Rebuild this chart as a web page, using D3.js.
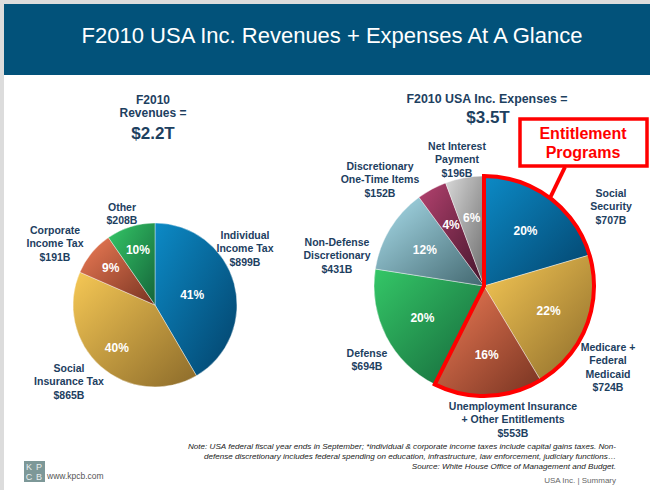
<!DOCTYPE html>
<html>
<head>
<meta charset="utf-8">
<script src="https://cdn.jsdelivr.net/npm/d3@7"></script>
<style>
  body { margin: 0; background: #fff; }
  svg { display: block; font-family: "Liberation Sans", Arial, sans-serif; }
</style>
</head>
<body>
<svg width="650" height="490"></svg>
<script>
// revenues (left pie)
const revNames = [['Individual', 'Income Tax'], ['Social', 'Insurance Tax'], ['Corporate', 'Income Tax'], ['Other']];
const revValues = [899, 865, 191, 208];
const revPct = ['41%', '40%', '9%', '10%'];

// expenses (right pie)
const expNames = [['Social', 'Security'], ['Medicare +', 'Federal', 'Medicaid'], ['Unemployment Insurance', '+ Other Entitlements'],
  ['Defense'], ['Non-Defense', 'Discretionary'], ['Discretionary', 'One-Time Items'], ['Net Interest', 'Payment']];
const expValues = [707, 724, 553, 694, 431, 152, 196];
const expPct = ['20%', '22%', '16%', '20%', '12%', '4%', '6%'];
const entitlementCount = 3;

const svg = d3.select('svg');
const navy = '#1d405f';

// page frame
svg.append('rect').attr('width', 650).attr('height', 490).attr('fill', '#dcdcdc');
svg.append('rect').attr('x', 4).attr('y', 4).attr('width', 646).attr('height', 486).attr('fill', '#fff');
svg.append('rect').attr('x', 4).attr('y', 4).attr('width', 646).attr('height', 71).attr('fill', '#02527a');
svg.append('text').attr('x', 332).attr('y', 43).attr('text-anchor', 'middle')
  .attr('fill', '#fff').attr('font-size', 22)
  .text('F2010 USA Inc. Revenues + Expenses At A Glance');

// gradients for slices
const shades = {
  blue: ['#0c8ac6', '#03426a'],
  gold: ['#f6c855', '#8c6b2a'],
  red: ['#ef7c56', '#773321'],
  green: ['#34c767', '#15653a'],
  sky: ['#aadeec', '#436870'],
  plum: ['#b4426f', '#42142a'],
  gray: ['#d8d8d8', '#6c6c6c']
};
const defs = svg.append('defs');
Object.entries(shades).forEach(([k, c]) => {
  const g = defs.append('linearGradient').attr('id', 'g-' + k)
    .attr('x1', 0).attr('y1', 0).attr('x2', 1).attr('y2', 1);
  g.append('stop').attr('offset', '0%').attr('stop-color', c[0]);
  g.append('stop').attr('offset', '100%').attr('stop-color', c[1]);
});
const revColors = ['blue', 'gold', 'red', 'green'];
const expColors = ['blue', 'gold', 'red', 'green', 'sky', 'plum', 'gray'];

const pie = d3.pie().sort(null).value(d => d);

function drawPie(cx, cy, r, values, colors, pct, labelK) {
  const g = svg.append('g').attr('transform', `translate(${cx},${cy})`);
  const arcs = pie(values);
  const arc = d3.arc().innerRadius(0).outerRadius(r);
  g.selectAll('path.slice').data(arcs).enter().append('path')
    .attr('class', 'slice')
    .attr('d', arc)
    .attr('fill', (d, i) => `url(#g-${colors[i]})`)
    .attr('stroke', '#fff').attr('stroke-width', 0.4);
  g.selectAll('text.pct').data(arcs).enter().append('text')
    .attr('class', 'pct')
    .attr('transform', (d, i) => {
      const k = labelK(i);
      const a = d3.arc().innerRadius(r * k).outerRadius(r * k);
      const c = a.centroid(d);
      return `translate(${c[0]},${c[1] + 4})`;
    })
    .attr('text-anchor', 'middle').attr('fill', '#fff')
    .attr('font-size', 12).attr('font-weight', 'bold')
    .text((d, i) => pct[i]);
  return { g, arcs };
}

function label(x, y, lines, size, color, lead) {
  const t = svg.append('text').attr('text-anchor', 'middle')
    .attr('fill', color || navy).attr('font-weight', 'bold').attr('font-size', size || 10.5);
  lines.forEach((s, i) => {
    t.append('tspan').attr('x', x).attr('y', y + i * (lead || 13.3)).text(s);
  });
}

// left pie
drawPie(155, 305, 82, revValues, revColors, revPct, i => i === 0 ? 0.47 : 0.7);
label(153, 104, ['F2010', 'Revenues ='], 12);
svg.append('text').attr('x', 153).attr('y', 139).attr('text-anchor', 'middle')
  .attr('fill', navy).attr('font-weight', 'bold').attr('font-size', 17).text('$2.2T');

const revLabelPos = [[245, 239], [69, 372], [55, 234], [122, 211]];
revNames.forEach((n, i) => label(revLabelPos[i][0], revLabelPos[i][1], n.concat(['$' + revValues[i] + 'B'])));

// right pie
const R = 110;
const right = drawPie(484, 286, R, expValues, expColors, expPct, () => 0.63);
label(487, 103, ['F2010 USA Inc. Expenses ='], 12.4);
svg.append('text').attr('x', 488).attr('y', 123).attr('text-anchor', 'middle')
  .attr('fill', navy).attr('font-weight', 'bold').attr('font-size', 17).text('$3.5T');

const expLabelPos = [[611, 197], [608, 351], [513, 410], [367, 357], [337, 246], [380, 170], [457, 150]];
expNames.forEach((n, i) => label(expLabelPos[i][0], expLabelPos[i][1], n.concat(['$' + expValues[i] + 'B'])));

// entitlement outline
const ent = right.arcs.slice(0, entitlementCount);
right.g.append('path')
  .attr('d', d3.arc().innerRadius(0).outerRadius(R)({ startAngle: ent[0].startAngle, endAngle: ent[ent.length - 1].endAngle }))
  .attr('fill', 'none').attr('stroke', '#ff0000').attr('stroke-width', 4).attr('stroke-linejoin', 'miter');

svg.append('line').attr('x1', 565).attr('y1', 167).attr('x2', 550).attr('y2', 198)
  .attr('stroke', '#ff0000').attr('stroke-width', 4);
svg.append('rect').attr('x', 520).attr('y', 119).attr('width', 127).attr('height', 47)
  .attr('fill', '#fff').attr('stroke', '#ff0000').attr('stroke-width', 3.5);
label(583, 139, ['Entitlement', 'Programs'], 16, '#ff0000', 19);

// footer
const notes = [
  'Note: USA federal fiscal year ends in September; *individual & corporate income taxes include capital gains taxes. Non-',
  'defense discretionary includes federal spending on education, infrastructure, law enforcement, judiciary functions…',
  'Source: White House Office of Management and Budget.'
];
const nt = svg.append('text').attr('text-anchor', 'end').attr('font-style', 'italic')
  .attr('font-size', 8.1).attr('fill', '#222');
notes.forEach((s, i) => nt.append('tspan').attr('x', 616).attr('y', 449 + i * 10).text(s));
svg.append('text').attr('x', 616).attr('y', 483).attr('text-anchor', 'end')
  .attr('font-size', 8).attr('fill', '#666').text('USA Inc. | Summary');

svg.append('rect').attr('x', 24).attr('y', 461).attr('width', 21).attr('height', 21).attr('fill', '#7d9898');
[['K', 29, 470], ['P', 39, 470], ['C', 29, 480], ['B', 39, 480]].forEach(([t, x, y]) => {
  svg.append('text').attr('x', x).attr('y', y).attr('text-anchor', 'middle')
    .attr('font-size', 9).attr('fill', '#e8efef').text(t);
});
svg.append('text').attr('x', 47).attr('y', 479).attr('font-size', 8.5).attr('fill', '#555').text('www.kpcb.com');
</script>
</body>
</html>
